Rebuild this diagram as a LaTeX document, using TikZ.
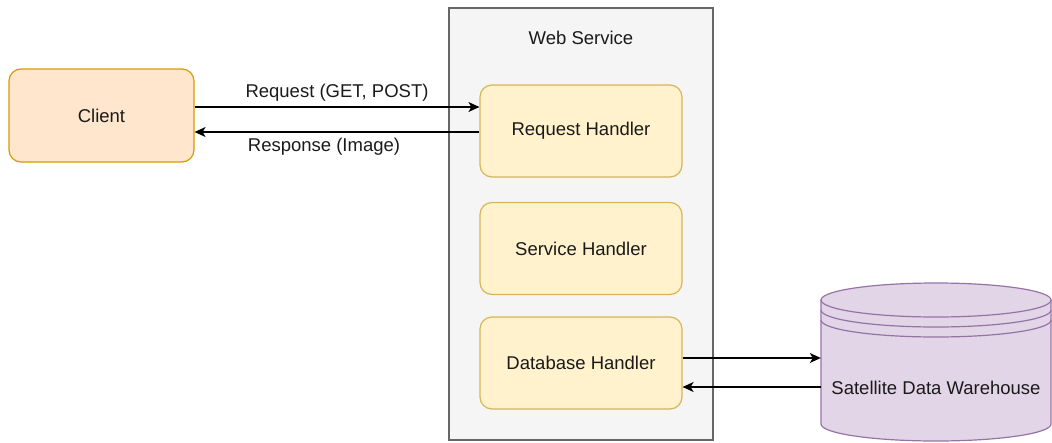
\documentclass[tikz,border=0pt]{standalone}
\usepackage{fontspec}
\setmainfont{Liberation Sans}
\usetikzlibrary{arrows.meta}
\definecolor{clientfill}{HTML}{FFE6CC}
\definecolor{clientdraw}{HTML}{D79B00}
\definecolor{hfill}{HTML}{FFF2CC}
\definecolor{hdraw}{HTML}{D6B656}
\definecolor{wsfill}{HTML}{F5F5F5}
\definecolor{wsdraw}{HTML}{666666}
\definecolor{dbfill}{HTML}{E1D5E7}
\definecolor{dbdraw}{HTML}{9673A6}
\definecolor{txt}{HTML}{1A1A1A}
\begin{document}
\begin{tikzpicture}[x=1pt,y=-1pt,
  every node/.style={font=\fontsize{18.5}{21}\selectfont, text=txt},
  box/.style={rectangle, rounded corners=12pt, line width=1.2pt, minimum width=202pt, minimum height=92pt, draw=hdraw, fill=hfill},
  arr/.style={line width=1.3pt, -{Stealth[length=11pt,width=10pt,inset=3pt]}},
  lbl/.style={inner sep=1pt}]
\useasboundingbox (0,0) rectangle (1052,442);
% web service container
\node[draw=wsdraw, fill=wsfill, line width=1.2pt, minimum width=264pt, minimum height=432pt, inner sep=0pt] (ws) at (581,224) {};
\node (wslbl) at (581,38) {Web Service};
% client
\node[rectangle, rounded corners=12pt, line width=1.2pt, draw=clientdraw, fill=clientfill, minimum width=185pt, minimum height=93pt] (client) at (101.5,115.5) {Client};
% handlers
\node[box] (rq) at (581,131) {Request Handler};
\node[box] (sv) at (581,248.5) {Service Handler};
\node[box] (db) at (581,363) {Database Handler};
% data warehouse cylinder
\node[minimum width=230pt, minimum height=124pt, inner sep=0pt] (dw) at (936,362) {};
\fill[dbfill, draw=dbdraw, line width=1.2pt]
  (821,300) -- (821,424) arc[start angle=180, end angle=0, x radius=115, y radius=17]
  -- (1051,300) arc[start angle=0, end angle=-180, x radius=115, y radius=17] -- cycle;
\draw[dbdraw, line width=1.2pt] (821,300) arc[start angle=180, end angle=0, x radius=115, y radius=17];
\draw[dbdraw, line width=1.2pt] (821,310) arc[start angle=180, end angle=0, x radius=115, y radius=17];
\draw[dbdraw, line width=1.2pt] (821,320) arc[start angle=180, end angle=0, x radius=115, y radius=17];
\node (dwlbl) at (936,388) {Satellite Data Warehouse};
% connectors
\draw[arr] (client.east |- 0,107) -- node[lbl, above=4pt] {Request (GET, POST)} (rq.west |- 0,107);
\draw[arr] (rq.west |- 0,132) -- node[lbl, below=4pt, xshift=-13pt] {Response (Image)} (client.east |- 0,132);
\draw[arr] (db.east |- 0,358) -- (dw.west |- 0,358);
\draw[arr] (dw.west |- 0,387) -- (db.east |- 0,387);
\end{tikzpicture}
\end{document}
